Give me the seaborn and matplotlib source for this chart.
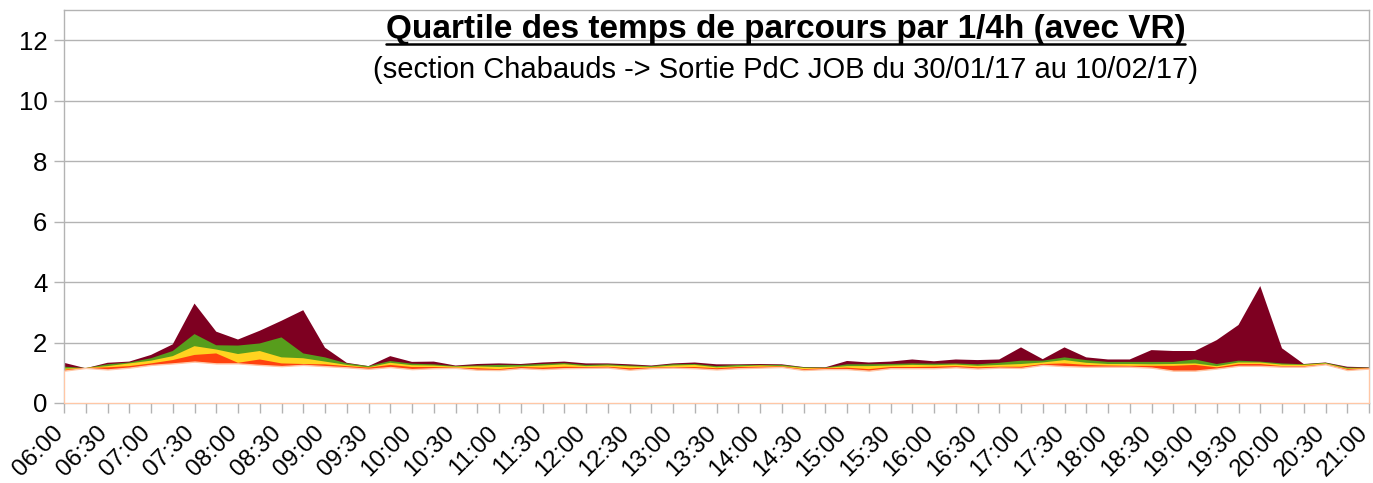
import numpy as np
import pandas as pd
import matplotlib
matplotlib.use("Agg")
import matplotlib.pyplot as plt
import matplotlib.transforms as mtransforms
from matplotlib.lines import Line2D
import seaborn as sns

# quarter-hour slots 06:00 -> 21:00
times = pd.date_range("2017-01-30 06:00", "2017-01-30 21:00", freq="15min").strftime("%H:%M").tolist()

t_max = [1.33, 1.15, 1.33, 1.37, 1.59, 1.94, 3.29, 2.36, 2.10, 2.39, 2.72, 3.07, 1.83, 1.33, 1.22, 1.55,
         1.36, 1.37, 1.24, 1.29, 1.31, 1.29, 1.34, 1.37, 1.31, 1.31, 1.28, 1.24, 1.31, 1.34, 1.28, 1.28,
         1.29, 1.28, 1.19, 1.18, 1.39, 1.34, 1.37, 1.44, 1.38, 1.44, 1.42, 1.44, 1.84, 1.45, 1.84, 1.51,
         1.44, 1.44, 1.75, 1.72, 1.72, 2.08, 2.58, 3.87, 1.81, 1.29, 1.34, 1.20, 1.18]
t_q3 = [1.20, 1.16, 1.28, 1.34, 1.48, 1.72, 2.28, 1.91, 1.90, 1.97, 2.17, 1.64, 1.51, 1.31, 1.22, 1.39,
        1.30, 1.28, 1.22, 1.24, 1.26, 1.26, 1.29, 1.32, 1.26, 1.28, 1.24, 1.22, 1.28, 1.29, 1.22, 1.26,
        1.26, 1.26, 1.18, 1.17, 1.28, 1.28, 1.29, 1.31, 1.30, 1.31, 1.28, 1.33, 1.40, 1.40, 1.51, 1.42,
        1.36, 1.36, 1.36, 1.36, 1.44, 1.29, 1.40, 1.37, 1.31, 1.28, 1.33, 1.17, 1.17]
t_med = [1.14, 1.16, 1.22, 1.31, 1.40, 1.55, 1.88, 1.77, 1.62, 1.72, 1.51, 1.48, 1.37, 1.26, 1.18, 1.33,
         1.25, 1.24, 1.20, 1.21, 1.19, 1.21, 1.24, 1.28, 1.22, 1.24, 1.21, 1.19, 1.24, 1.26, 1.18, 1.21,
         1.24, 1.22, 1.16, 1.16, 1.22, 1.22, 1.24, 1.26, 1.25, 1.27, 1.23, 1.26, 1.29, 1.34, 1.42, 1.33,
         1.29, 1.29, 1.28, 1.29, 1.31, 1.22, 1.34, 1.34, 1.27, 1.26, 1.31, 1.14, 1.16]
t_q1 = [1.10, 1.16, 1.18, 1.22, 1.31, 1.42, 1.59, 1.64, 1.33, 1.44, 1.31, 1.29, 1.28, 1.22, 1.17, 1.26,
        1.19, 1.19, 1.17, 1.15, 1.12, 1.19, 1.17, 1.20, 1.19, 1.20, 1.15, 1.17, 1.19, 1.19, 1.15, 1.19,
        1.20, 1.21, 1.12, 1.15, 1.17, 1.12, 1.19, 1.19, 1.20, 1.22, 1.18, 1.20, 1.20, 1.29, 1.31, 1.26,
        1.24, 1.23, 1.23, 1.23, 1.26, 1.18, 1.29, 1.29, 1.22, 1.22, 1.29, 1.12, 1.15]
t_min = [1.07, 1.16, 1.11, 1.17, 1.26, 1.31, 1.37, 1.31, 1.31, 1.26, 1.22, 1.26, 1.22, 1.18, 1.13, 1.19,
         1.12, 1.15, 1.16, 1.10, 1.09, 1.15, 1.12, 1.15, 1.16, 1.17, 1.10, 1.15, 1.17, 1.15, 1.11, 1.15,
         1.17, 1.19, 1.09, 1.12, 1.12, 1.07, 1.15, 1.15, 1.15, 1.18, 1.14, 1.17, 1.16, 1.26, 1.22, 1.20,
         1.20, 1.20, 1.17, 1.07, 1.07, 1.14, 1.23, 1.23, 1.20, 1.20, 1.28, 1.09, 1.14]

sns.set_theme(style="whitegrid")
plt.rcParams["font.family"] = ["Liberation Sans", "DejaVu Sans"]
plt.rcParams["text.color"] = "black"

GRID = "#b3b3b3"
fig = plt.figure(figsize=(13.73, 4.83), dpi=100)
ax = fig.add_axes([64 / 1373, 80 / 483, 1305 / 1373, 393 / 483])

x = np.arange(len(times))
series = [
    (t_max, "#7e0021"),
    (t_q3, "#579d1c"),
    (t_med, "#ffd320"),
    (t_q1, "#ff420e"),
]
for vals, col in series:
    ax.fill_between(x, 0, vals, facecolor=col, edgecolor="none", zorder=2)
# lowest series: white fill with a peach outline
ax.fill_between(x, 0, t_min, facecolor="white", edgecolor="#ffc7a6", linewidth=1.0, zorder=3)

ax.set_xlim(0, len(times) - 1)
ax.set_ylim(0, 13)
ax.set_yticks(range(0, 13, 2))
ax.set_xticks(x[::2])
ax.set_xticklabels(times[::2], rotation=45, ha="right", va="center", rotation_mode="anchor")
ax.set_xticks(x, minor=True)

ax.grid(axis="y", color=GRID, linewidth=1.0)
ax.grid(axis="x", visible=False)
ax.grid(axis="x", which="minor", visible=False)
ax.set_axisbelow(True)
for sp in ax.spines.values():
    sp.set_color(GRID)
    sp.set_linewidth(1.0)

ax.tick_params(axis="y", which="major", left=True, length=7, width=1, color=GRID,
               labelsize=18.5, pad=5, labelcolor="black")
ax.tick_params(axis="x", which="both", bottom=True, length=7, width=1, color=GRID,
               labelsize=17.5, pad=12, labelcolor="black")
# nudge the slanted labels a little to the left so the last one stays inside
shift = mtransforms.ScaledTranslation(-4 / 100, 0, fig.dpi_scale_trans)
for lbl in ax.get_xticklabels():
    lbl.set_transform(lbl.get_transform() + shift)
ax.set_xlabel("")
ax.set_ylabel("")

title = fig.text(0.572, 0.938, "Quartile des temps de parcours par 1/4h (avec VR)",
                 ha="center", va="center", fontsize=24, fontweight="bold", color="black")
fig.text(0.572, 0.855, "(section Chabauds -> Sortie PdC JOB du 30/01/17 au 10/02/17)",
         ha="center", va="center", fontsize=21, color="black")

# underline the title
fig.canvas.draw()
bb = title.get_window_extent().transformed(fig.transFigure.inverted())
uy = bb.y0 + 1.0 / 483
fig.add_artist(Line2D([bb.x0, bb.x1], [uy, uy], color="black", linewidth=1.8,
                      transform=fig.transFigure))

fig.savefig("out.png", dpi=100)
